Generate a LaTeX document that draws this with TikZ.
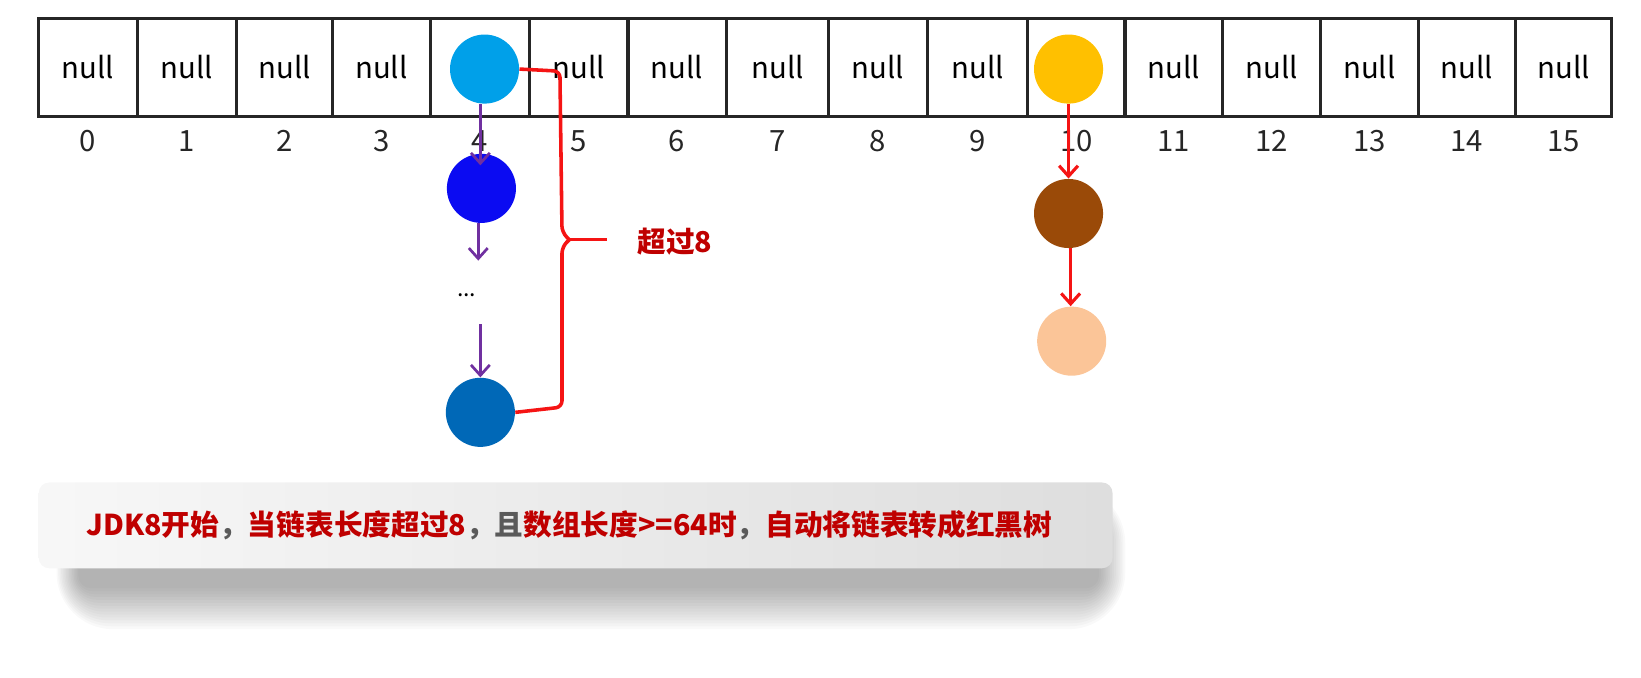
\documentclass[tikz,border=0pt]{standalone}
\usepackage{fontspec}
\setmainfont{Noto Sans CJK SC}
\usetikzlibrary{arrows.meta}
\definecolor{lblue}{HTML}{00A0E9}
\definecolor{vblue}{HTML}{0B0BF2}
\definecolor{dblue}{HTML}{0068B7}
\definecolor{gold}{HTML}{FFC000}
\definecolor{brownc}{HTML}{9A4A08}
\definecolor{peach}{HTML}{FBC598}
\definecolor{purp}{HTML}{7030A0}
\definecolor{redl}{HTML}{F51414}
\definecolor{darkred}{HTML}{BF0000}
\definecolor{grayt}{HTML}{5A5A5A}
\begin{document}
\begin{tikzpicture}[x=0.5pt,y=-0.5pt,
  cell/.style={draw=black!85, line width=1.5pt, inner sep=0pt, font=\fontsize{14}{16}\selectfont},
  idx/.style={font=\fontsize{14}{16}\selectfont, text=black!85},
  ball/.style={circle, inner sep=0pt, minimum size=33pt},
  parrow/.style={draw=purp, line width=1.3pt, -{Straight Barb[length=5pt,width=9pt,line width=1.3pt]}},
  rarrow/.style={draw=redl, line width=1.5pt, -{Straight Barb[length=5pt,width=9pt,line width=1.5pt]}},
  bracel/.style={draw=redl, line width=1.7pt, rounded corners=3pt},
  note/.style={font=\bfseries\fontsize{13.7}{16}\selectfont, text=darkred}
]
\useasboundingbox (0,0) rectangle (1568,647);
% array
\foreach \l/\r/\i/\t in {37/131/0/null,131/226/1/null,226/318/2/null,318/411/3/null,411/506/4/{},506/600/5/null,600/694/6/null,694/792/7/null,792/886/8/null,886/982/9/null,982/1075/10/{},1075/1168/11/null,1168/1262/12/null,1262/1355/13/null,1355/1448/14/null,1448/1540/15/null}{
  \pgfmathsetmacro{\cx}{(\l+\r)/2}
  \pgfmathsetmacro{\cw}{(\r-\l)*0.5}
  \node[cell, minimum width=\cw pt, minimum height=46.5pt] (a\i) at (\cx,64.5) {\t};
  \node[idx] (i\i) at (\cx,135) {\i};
}
% chain at 4
\node[ball, fill=lblue] (n1) at (463,66) {};
\node[ball, fill=vblue] (n2) at (460,180) {};
\node[font=\fontsize{11}{12}\selectfont] (dots) at (446,282) {...};
\node[ball, fill=dblue] (n3) at (459,394) {};
\coordinate (p1) at (457,249);
\coordinate (p2) at (459,310);
\draw[parrow] (n1.south -| 459,0) -- (459,158);
\draw[parrow] (n2.south -| 457,0) -- (p1);
\draw[parrow] (p2) -- (n3.north -| 459,0);
% brace
\draw[bracel] (n1.east) -- (535,68) -- (537,222) -- (544,229);
\draw[draw=redl, line width=1.7pt] (544,229) -- (580,229);
\draw[bracel] (544,229) -- (537,236) -- (537,389) -- (n3.east);
\node[note, anchor=west] (t8) at (602,231) {超过8};
% chain at 10
\node[ball, fill=gold] (g) at (1021,66) {};
\node[ball, fill=brownc] (br) at (1021,204) {};
\node[ball, fill=peach] (pe) at (1024,326) {};
\draw[rarrow] (g.south) -- (br.north);
\draw[rarrow] (br.south -| 1023,0) -- (pe.north -| 1023,0);
% shadow
\foreach \k in {0,...,14}{
  \fill[black, opacity=0.022, rounded corners=(6+\k*1.5)*1pt] (75-\k*1.5,500-\k*2.5) rectangle (1050+\k*1.8,562+\k*2.8);
}
% note box
\shade[left color=white!97!black, right color=white!87!black, rounded corners=5pt] (37,461) rectangle (1063,543);
\node[note] (box) at (544,502) {JDK8开始\textcolor{grayt}{，}当链表长度超过8\textcolor{grayt}{，且}数组长度>=64时\textcolor{grayt}{，}自动将链表转成红黑树};
\end{tikzpicture}
\end{document}
